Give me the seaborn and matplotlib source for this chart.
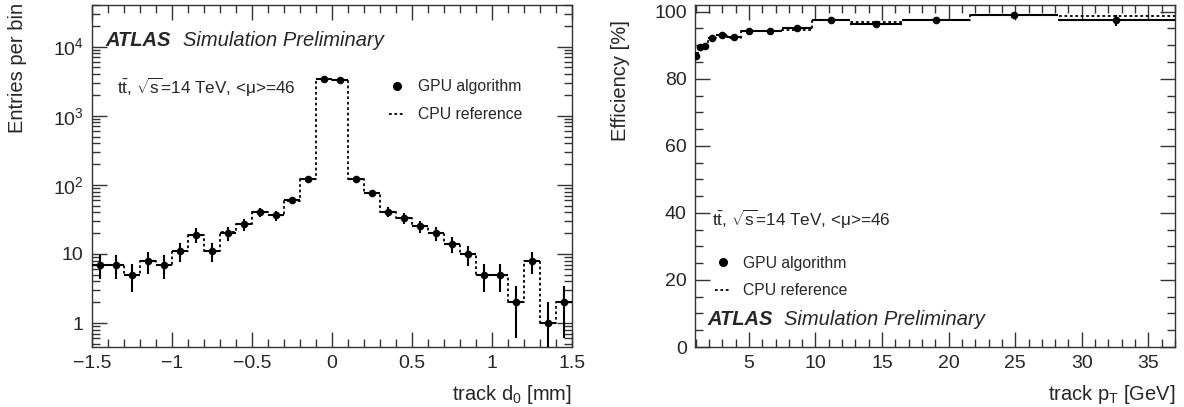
import numpy as np
import pandas as pd
import seaborn as sns
import matplotlib.pyplot as plt
from matplotlib.ticker import (MultipleLocator, FixedLocator, FixedFormatter, LogLocator,
                               NullFormatter, FuncFormatter)
from matplotlib.lines import Line2D

# track d0 Verteilung (links)
d0_edges = [-1.5, -1.4, -1.3, -1.2, -1.1, -1.0, -0.9, -0.8, -0.7, -0.6, -0.5,
            -0.4, -0.3, -0.2, -0.1, 0.0, 0.1, 0.2, 0.3, 0.4, 0.5,
            0.6, 0.7, 0.8, 0.9, 1.0, 1.1, 1.2, 1.3, 1.4, 1.5]
d0_centers = [-1.45, -1.35, -1.25, -1.15, -1.05, -0.95, -0.85, -0.75, -0.65, -0.55,
              -0.45, -0.35, -0.25, -0.15, -0.05, 0.05, 0.15, 0.25, 0.35, 0.45,
              0.55, 0.65, 0.75, 0.85, 0.95, 1.05, 1.15, 1.25, 1.35, 1.45]
d0_gpu = [7, 7, 5, 8, 7, 11, 19, 11, 20, 27, 40, 36, 60, 120, 3400,
          3300, 120, 76, 41, 33, 25, 20, 14, 10, 5, 5, 2, 8, 1, 2]
d0_cpu = [7, 7, 5, 8, 7, 11, 19, 11, 21, 27, 40, 36, 59, 120, 3350,
          3300, 120, 76, 41, 33, 25, 20, 14, 10, 5, 5, 2, 8, 1, 2]
d0_err = [2.6, 2.6, 2.2, 2.8, 2.6, 3.3, 4.4, 3.3, 4.5, 5.2, 6.3, 6.0, 7.7, 11, 58,
          57, 11, 8.7, 6.4, 5.7, 5.0, 4.5, 3.7, 3.2, 2.2, 2.2, 1.4, 2.8, 1.0, 1.4]

# Effizienz vs pT (rechts)
pt_edges = [0.88, 1.15, 1.5, 1.96, 2.56, 3.35, 4.37, 5.71, 7.45, 9.7, 12.6, 16.5, 21.6, 28.2, 37.0]
pt_centers = [1.015, 1.33, 1.73, 2.26, 2.95, 3.86, 5.04, 6.58, 8.58, 11.15, 14.55, 19.05, 24.9, 32.6]
eff_gpu = [86.8, 89.6, 89.8, 92.3, 93.1, 92.6, 94.1, 94.3, 95.1, 97.6, 96.2, 97.6, 98.9, 97.4]
eff_cpu = [86.8, 89.6, 89.8, 92.3, 93.1, 92.2, 94.1, 94.3, 94.6, 97.6, 96.8, 97.6, 98.9, 98.8]
eff_err = [1.2, 0.8, 0.7, 0.7, 0.6, 0.6, 0.6, 0.6, 0.8, 0.6, 0.9, 0.8, 0.6, 1.6]

sns.set_theme(style="ticks")
plt.rcParams['font.family'] = ['Liberation Sans', 'DejaVu Sans']
plt.rcParams['mathtext.fontset'] = 'custom'
plt.rcParams['mathtext.rm'] = 'Liberation Sans'
plt.rcParams['mathtext.it'] = 'Liberation Sans:italic'
plt.rcParams['mathtext.bf'] = 'Liberation Sans:bold'

dotted = (0, (1.5, 1.5))
fs_tick = 14
fs_label = 14.5
fs_atlas = 14.5
fs_info = 12.3
fs_leg = 11.3

fig = plt.figure(figsize=(11.84, 4.07), dpi=100)
ax1 = fig.add_axes([92 / 1184, 60 / 407, 480 / 1184, 342 / 407])
ax2 = fig.add_axes([695 / 1184, 60 / 407, 480 / 1184, 342 / 407])


def draw_panel(ax, edges, centers, gpu, cpu, err):
    # CPU Referenz als gepunktetes Histogramm
    sns.histplot(x=centers, weights=cpu, bins=edges, element="step", fill=False,
                 color="black", linestyle=dotted, linewidth=1.3, ax=ax)
    half = [(edges[i + 1] - edges[i]) / 2 for i in range(len(centers))]
    ax.errorbar(centers, gpu, xerr=half, yerr=err, fmt="none", ecolor="black",
                elinewidth=1.5, capsize=0, zorder=3)
    sns.scatterplot(x=centers, y=gpu, color="black", s=30, edgecolor="black",
                    linewidth=0, zorder=4, ax=ax)


def style_axes(ax):
    for s in ax.spines.values():
        s.set_color("#333333")
        s.set_linewidth(1.0)
    ax.tick_params(which="both", direction="in", top=True, right=True,
                   color="#333333", labelsize=fs_tick, pad=6)
    ax.tick_params(which="major", length=11, width=1.0)
    ax.tick_params(which="minor", length=5.5, width=1.0)
    ax.set_ylabel("")
    ax.set_xlabel("")


minus_fmt = FuncFormatter(lambda v, p: ("%g" % v).replace("-", "\u2212"))
info = r"t$\bar{\mathrm{t}}$, $\sqrt{\mathrm{s}}$=14 TeV, <μ>=46"
handles = [Line2D([], [], marker="o", color="black", ls="none", markersize=5.5),
           Line2D([], [], color="black", ls=dotted, lw=1.3)]
labels = ["GPU algorithm", "CPU reference"]

# --- linkes Panel ---
draw_panel(ax1, d0_edges, d0_centers, d0_gpu, d0_cpu, d0_err)
ax1.set_yscale("log")
ax1.set_xlim(-1.5, 1.5)
ax1.set_ylim(0.45, 4.0e4)
ax1.xaxis.set_major_locator(MultipleLocator(0.5))
ax1.xaxis.set_minor_locator(MultipleLocator(0.1))
ax1.xaxis.set_major_formatter(minus_fmt)
ax1.yaxis.set_major_locator(FixedLocator([1, 10, 100, 1000, 10000]))
ax1.yaxis.set_major_formatter(FixedFormatter(["1", "10", "$10^{2}$", "$10^{3}$", "$10^{4}$"]))
ax1.yaxis.set_minor_locator(LogLocator(base=10, subs=range(2, 10), numticks=20))
ax1.yaxis.set_minor_formatter(NullFormatter())
style_axes(ax1)
ax1.set_xlabel("track d$_{0}$ [mm]", fontsize=fs_label, loc="right")
ax1.xaxis.set_label_coords(1.0, -0.105)
ax1.set_ylabel("Entries per bin", fontsize=fs_label, loc="top")
ax1.yaxis.set_label_coords(-0.135, 1.005)

ax1.text(0.028, 0.895, "ATLAS", transform=ax1.transAxes, fontsize=fs_atlas,
         fontweight="bold", fontstyle="italic", va="center")
ax1.text(0.19, 0.895, "Simulation Preliminary", transform=ax1.transAxes,
         fontsize=fs_atlas, fontstyle="italic", va="center")
ax1.text(0.052, 0.76, info, transform=ax1.transAxes, fontsize=fs_info, va="center")
ax1.legend(handles, labels, loc="center left", bbox_to_anchor=(0.59, 0.72),
           frameon=False, fontsize=fs_leg, handlelength=1.0, handletextpad=0.8,
           labelspacing=0.8)

# --- rechtes Panel ---
draw_panel(ax2, pt_edges, pt_centers, eff_gpu, eff_cpu, eff_err)
ax2.set_xlim(0.95, 37)
ax2.set_ylim(0, 102)
ax2.xaxis.set_major_locator(MultipleLocator(5))
ax2.xaxis.set_minor_locator(MultipleLocator(1))
ax2.xaxis.set_major_formatter(minus_fmt)
ax2.yaxis.set_major_locator(MultipleLocator(20))
ax2.yaxis.set_minor_locator(MultipleLocator(5))
ax2.yaxis.set_major_formatter(minus_fmt)
style_axes(ax2)
ax2.set_xlabel("track p$_{\\mathrm{T}}$ [GeV]", fontsize=fs_label, loc="right")
ax2.xaxis.set_label_coords(1.0, -0.105)
ax2.set_ylabel("Efficiency [%]", fontsize=fs_label, loc="top")
ax2.yaxis.set_label_coords(-0.135, 0.956)

ax2.text(0.035, 0.373, info, transform=ax2.transAxes, fontsize=fs_info, va="center")
ax2.legend(handles, labels, loc="center left", bbox_to_anchor=(0.012, 0.205),
           frameon=False, fontsize=fs_leg, handlelength=1.0, handletextpad=0.8,
           labelspacing=0.8)
ax2.text(0.026, 0.08, "ATLAS", transform=ax2.transAxes, fontsize=fs_atlas,
         fontweight="bold", fontstyle="italic", va="center")
ax2.text(0.186, 0.08, "Simulation Preliminary", transform=ax2.transAxes,
         fontsize=fs_atlas, fontstyle="italic", va="center")

fig.savefig("out.png", dpi=100)
